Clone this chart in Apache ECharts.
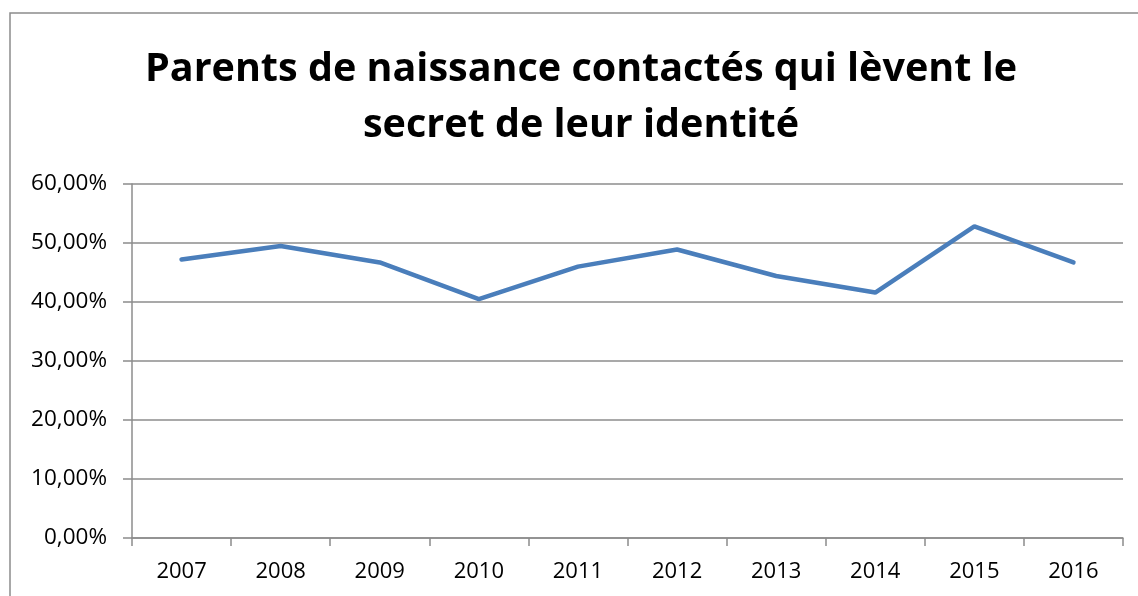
<!DOCTYPE html>
<html>
<head>
<meta charset="utf-8">
<script src="https://cdn.jsdelivr.net/npm/echarts@6/dist/echarts.min.js"></script>
<style>
  html, body { margin: 0; padding: 0; background: #fff; }
  #chart { width: 1138px; height: 596px; }
</style>
</head>
<body>
<div id="chart"></div>
<script>
const titleText = 'Parents de naissance contactés qui lèvent le\nsecret de leur identité'
const years = ['2007', '2008', '2009', '2010', '2011', '2012', '2013', '2014', '2015', '2016']
const rates = [47.2, 49.5, 46.7, 40.5, 46.0, 48.9, 44.4, 41.6, 52.8, 46.7]

const FONT = 'Open Sans, Noto Sans, sans-serif'
const chart = echarts.init(document.getElementById('chart'))

chart.setOption({
  backgroundColor: '#fff',
  animation: false,
  graphic: [{
    type: 'rect', shape: { x: 10, y: 13, width: 1160, height: 620 },
    style: { fill: 'none', stroke: '#8c8c8c', lineWidth: 1.5 }, silent: true, z: -1,
  }],
  title: {
    text: titleText,
    left: 576, top: 37, textAlign: 'center',
    textStyle: { fontFamily: FONT, fontSize: 39.5, fontWeight: 'bold', color: '#000', lineHeight: 56 },
  },
  grid: { left: 132, right: 15, top: 184, bottom: 58 },
  xAxis: {
    type: 'category', data: years, boundaryGap: true,
    axisLine: { lineStyle: { color: '#8c8c8c', width: 1.5 } },
    axisTick: { show: true, length: 8, lineStyle: { color: '#8c8c8c', width: 1.5 } },
    axisLabel: { fontFamily: FONT, fontSize: 22, color: '#000', margin: 23 },
  },
  yAxis: {
    type: 'value', min: 0, max: 60, interval: 10,
    axisLine: { show: true, lineStyle: { color: '#8c8c8c', width: 1.5 } },
    axisTick: { show: true, length: 9, lineStyle: { color: '#8c8c8c', width: 1.5 } },
    axisLabel: {
      fontFamily: FONT, fontSize: 22.5, color: '#000', margin: 25,
      formatter: v => v.toFixed(2).replace('.', ',') + '%',
    },
    splitLine: { lineStyle: { color: '#8c8c8c', width: 1.5 } },
  },
  series: [{
    type: 'line', data: rates, symbol: 'none',
    lineStyle: { color: '#4a7ebb', width: 4.5, cap: 'round' },
  }],
})
</script>
</body>
</html>
